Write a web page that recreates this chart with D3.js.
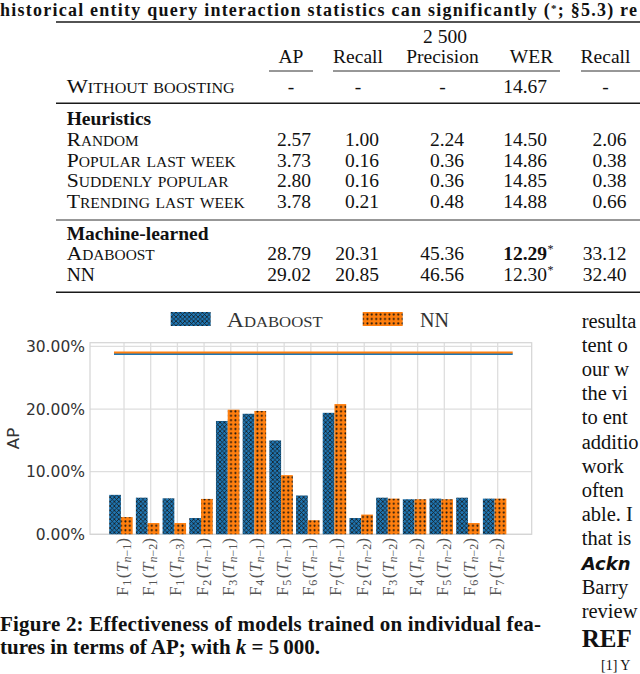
<!DOCTYPE html>
<html><head><meta charset="utf-8">
<script src="https://cdn.jsdelivr.net/npm/d3@7"></script>
<style>body{margin:0;background:#fff}svg{display:block}</style>
</head><body><svg id="c" width="640" height="674"></svg>
<script>
// ---------------- data ----------------
const featureNums = [1,1,1,2,3,4,5,6,7,2,3,4,5,6,7];
const featureLags = [1,2,3,1,1,1,1,1,1,2,2,2,2,2,2];
const categories = featureNums.map((f,i)=>"F"+f+"(T n-"+featureLags[i]+")");
const adaboostAP = [6.3,5.85,5.75,2.6,18.1,19.25,15.0,6.2,19.4,2.6,5.85,5.6,5.7,5.85,5.7];
const nnAP       = [2.75,1.8,1.8,5.65,19.9,19.7,9.45,2.25,20.8,3.15,5.7,5.6,5.6,1.8,5.7];
const adaboostOverall = 28.79;
const nnOverall = 29.02;
const yTicks = [0,10,20,30];
const seriesNames = ["Adaboost","NN"];

const tableHeaders = ["AP","Recall","Precision","WER","Recall"];
const tableSuperHeader = "2 500";
const rowLabels = ["Without boosting","Random","Popular last week","Suddenly popular","Trending last week","Adaboost","NN"];
const apVals        = [null,2.57,3.73,2.80,3.78,28.79,29.02];
const recallVals    = [null,1.00,0.16,0.16,0.21,20.31,20.85];
const precisionVals = [null,2.24,0.36,0.36,0.48,45.36,46.56];
const werVals       = [14.67,14.50,14.86,14.85,14.88,12.29,12.30];
const recall2Vals   = [null,2.06,0.38,0.38,0.66,33.12,32.40];
const werSignificant = [false,false,false,false,false,true,true];
const werBest        = [false,false,false,false,false,true,false];
const groupLabels = ["Heuristics","Machine-learned"];

// ---------------- drawing ----------------
const svg = d3.select("#c");
svg.append("rect").attr("width",640).attr("height",674).attr("fill","#fff");
const serif = "'Liberation Serif','Times New Roman',serif";
const sans = "'DejaVu Sans',sans-serif";

// ---- title line of table caption ----
const tl = svg.append("text").attr("x",0).attr("y",16).attr("font-family",serif)
  .attr("font-weight","bold").attr("font-size",18).attr("fill","#111")
  .attr("textLength",637).attr("lengthAdjust","spacing");
tl.append("tspan").text("historical entity query interaction statistics can significantly (");
tl.append("tspan").attr("font-size",11).attr("dy",-4).text("*");
tl.append("tspan").attr("dy",4).text("; §5.3) re");

// ---- table ----
const colCenters = [291,358,442.5,531.5,605.5];
const colRights  = [311,379,464,547,626.5];
const tableLeft = 66.7;
const rowY = [92.7,146,166.7,187.4,208.2,260.2,280.8];
const groupY = [125,239.5];
const tfs = 19.5;
function rule(y,x1,x2,w){svg.append("line").attr("x1",x1).attr("x2",x2).attr("y1",y).attr("y2",y).attr("stroke","#1a1a1a").attr("stroke-width",w);}
rule(22,56,640,1.6);
rule(103.3,56,640,1.4);
rule(220,56,640,0.9);
rule(292.3,56,640,1.6);
rule(71,269,313,0.9);
rule(71,333,560,0.9);
rule(71,581,645,0.9);

svg.append("text").attr("x",445).attr("y",42.5).attr("text-anchor","middle")
  .attr("font-family",serif).attr("font-size",tfs).attr("fill","#111").text(tableSuperHeader);
tableHeaders.forEach((h,i)=>{
  svg.append("text").attr("x",colCenters[i]).attr("y",62.5).attr("text-anchor","middle")
    .attr("font-family",serif).attr("font-size",tfs).attr("fill","#111").text(h);
});
const labelWidths = [168,72,169,162,178,88,26.7];
rowLabels.forEach((lab,i)=>{
  const t = svg.append("text").attr("x",tableLeft).attr("y",rowY[i])
    .attr("font-family",serif).attr("font-size",tfs).attr("fill","#111").text(lab);
  if(lab!=="NN"){t.attr("font-variant","small-caps").attr("textLength",labelWidths[i]).attr("lengthAdjust","spacingAndGlyphs");}
});
groupLabels.forEach((g,i)=>{
  svg.append("text").attr("x",tableLeft).attr("y",groupY[i]).attr("font-family",serif)
    .attr("font-weight","bold").attr("font-size",tfs).attr("fill","#111").text(g);
});
const cols = [apVals,recallVals,precisionVals,werVals,recall2Vals];
cols.forEach((vals,ci)=>{
  vals.forEach((v,ri)=>{
    if(v===null){
      svg.append("text").attr("x",colCenters[ci]).attr("y",rowY[ri]).attr("text-anchor","middle")
        .attr("font-family",serif).attr("font-size",tfs).attr("fill","#111").text("-");
    } else {
      const t = svg.append("text").attr("x",colRights[ci]).attr("y",rowY[ri]).attr("text-anchor","end")
        .attr("font-family",serif).attr("font-size",tfs).attr("fill","#111").text(v.toFixed(2));
      if(ci===3 && werBest[ri]) t.attr("font-weight","bold");
      if(ci===3 && werSignificant[ri]){
        svg.append("text").attr("x",colRights[ci]+0.5).attr("y",rowY[ri]-7)
          .attr("font-family",serif).attr("font-size",12).attr("fill","#111").text("*");
      }
    }
  });
});

// ---- chart ----
const plot = {left:90,right:531.7,top:342.7,bottom:534.3};
const x = d3.scalePoint().domain(categories).range([plot.left,plot.right]).padding(1.274);
const step = x.step();
const y = d3.scaleLinear().domain([0,30.6]).range([plot.bottom,plot.top]);

const defs = svg.append("defs");
const P = 4.4;
const pb = defs.append("pattern").attr("id","hb").attr("patternUnits","userSpaceOnUse").attr("width",P).attr("height",P);
pb.append("rect").attr("width",P).attr("height",P).attr("fill","#1f77b4");
pb.append("path").attr("d",`M0,0L${P},${P}M${P},0L0,${P}`).attr("stroke","#151515").attr("stroke-width",0.75);
const po = defs.append("pattern").attr("id","ho").attr("patternUnits","userSpaceOnUse").attr("width",P).attr("height",P);
po.append("rect").attr("width",P).attr("height",P).attr("fill","#ff7f0e");
po.append("circle").attr("cx",P/2).attr("cy",P/2).attr("r",1.0).attr("fill","#111");

const g = svg.append("g");
// grid
g.selectAll(".vg").data(categories).join("line")
  .attr("x1",d=>x(d)).attr("x2",d=>x(d)).attr("y1",plot.top).attr("y2",plot.bottom)
  .attr("stroke","#dedede").attr("stroke-width",1.3);
g.selectAll(".hg").data(yTicks).join("line")
  .attr("x1",plot.left).attr("x2",plot.right).attr("y1",d=>y(d)).attr("y2",d=>y(d))
  .attr("stroke","#dedede").attr("stroke-width",1.3);
g.append("rect").attr("x",plot.left).attr("y",plot.top).attr("width",plot.right-plot.left)
  .attr("height",plot.bottom-plot.top).attr("fill","none").attr("stroke","#d4d4d4").attr("stroke-width",1.2);

// bars
const bw = 0.44*step;
g.selectAll(".bb").data(adaboostAP).join("rect")
  .attr("x",(d,i)=>x(categories[i])-0.555*step).attr("width",bw)
  .attr("y",d=>y(d)).attr("height",d=>y(0)-y(d)).attr("fill","url(#hb)");
g.selectAll(".bo").data(nnAP).join("rect")
  .attr("x",(d,i)=>x(categories[i])-0.115*step).attr("width",bw)
  .attr("y",d=>y(d)).attr("height",d=>y(0)-y(d)).attr("fill","url(#ho)");

// overall lines
const lx1 = x(categories[0])-0.375*step, lx2 = x(categories[categories.length-1])+0.5625*step;
g.append("line").attr("x1",lx1).attr("x2",lx2).attr("y1",y(adaboostOverall)).attr("y2",y(adaboostOverall))
  .attr("stroke","#1f77b4").attr("stroke-width",2);
g.append("line").attr("x1",lx1).attr("x2",lx2).attr("y1",y(nnOverall)).attr("y2",y(nnOverall))
  .attr("stroke","#ff7f0e").attr("stroke-width",2);

// y axis labels
g.selectAll(".yt").data(yTicks).join("text")
  .attr("x",85).attr("y",d=>y(d)).attr("dy","0.36em").attr("text-anchor","end")
  .attr("font-family",sans).attr("font-size",15.5).attr("fill","#333")
  .text(d=>d3.format(".2f")(d)+"%");
svg.append("text").attr("transform","translate(19,438.5) rotate(-90)").attr("text-anchor","middle")
  .attr("font-family",sans).attr("font-size",16.5).attr("fill","#333").text("AP");

// x tick labels (rotated math)
categories.forEach((c,i)=>{
  const t = svg.append("text").attr("transform",`translate(${x(c)+3.5},538) rotate(-90)`)
    .attr("text-anchor","end").attr("font-family",serif).attr("font-size",17.5).attr("fill","#555");
  t.append("tspan").text("F");
  t.append("tspan").attr("font-size",12).attr("dy",3).attr("dx",0.5).text(featureNums[i]);
  t.append("tspan").attr("dy",-3).attr("dx",1.5).text("(");
  t.append("tspan").attr("font-style","italic").text("T");
  t.append("tspan").attr("font-size",12).attr("dy",3).attr("font-style","italic").text("n");
  t.append("tspan").attr("font-size",12).text("\u2212"+featureLags[i]);
  t.append("tspan").attr("dy",-3).text(")");
});

// legend
const legendItems = [{name:seriesNames[0],fill:"url(#hb)",px:170.7,tx:226.7,w:96},{name:seriesNames[1],fill:"url(#ho)",px:362.7,tx:420,w:29}];
legendItems.forEach(it=>{
  svg.append("rect").attr("x",it.px).attr("y",312).attr("width",40).attr("height",14).attr("fill",it.fill);
  svg.append("text").attr("x",it.tx).attr("y",326.5).attr("font-family",serif).attr("font-size",20)
    .attr("fill","#333").attr("font-variant",it.name==="NN"?"normal":"small-caps")
    .attr("textLength",it.w).attr("lengthAdjust","spacingAndGlyphs").text(it.name);
});

// figure caption
svg.append("text").attr("x",0).attr("y",631).attr("font-family",serif).attr("font-weight","bold")
  .attr("font-size",21).attr("fill","#111").attr("textLength",541).attr("lengthAdjust","spacing")
  .text("Figure 2: Effectiveness of models trained on individual fea-");
const c2 = svg.append("text").attr("x",0).attr("y",653.5).attr("font-family",serif)
  .attr("font-size",21).attr("fill","#111").attr("textLength",320).attr("lengthAdjust","spacing");
c2.append("tspan").attr("font-weight","bold").text("tures in terms of AP; with ");
c2.append("tspan").attr("font-style","italic").attr("font-weight","bold").text("k");
c2.append("tspan").attr("font-weight","bold").text(" = 5\u2009000.");

// right column body text (cut off by page edge)
const bodyLines = ["resulta","tent o","our w","the vi","to ent","additio","work","often","able. I","that is"];
bodyLines.forEach((s,i)=>{
  svg.append("text").attr("x",581.7).attr("y",328+i*24.1).attr("font-family",serif)
    .attr("font-size",20.5).attr("fill","#111").text(s);
});
svg.append("text").attr("x",581.7).attr("y",570).attr("font-family",sans).attr("font-weight","bold")
  .attr("font-style","italic").attr("font-size",18).attr("fill","#111").text("Ackn");
["Barry","review"].forEach((s,i)=>{
  svg.append("text").attr("x",581.7).attr("y",594+i*24.2).attr("font-family",serif)
    .attr("font-size",20.5).attr("fill","#111").text(s);
});
svg.append("text").attr("x",581.7).attr("y",647).attr("font-family",serif).attr("font-weight","bold")
  .attr("font-size",25).attr("fill","#111").text("REF");
svg.append("text").attr("x",601).attr("y",670).attr("font-family",serif)
  .attr("font-size",14).attr("fill","#111").text("[1]  Y");
</script></body></html>
